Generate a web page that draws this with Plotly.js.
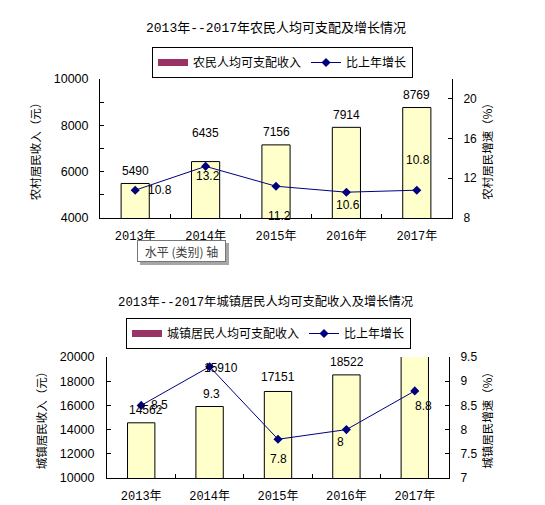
<!DOCTYPE html>
<html><head><meta charset="utf-8">
<script src="https://cdn.plot.ly/plotly-3.0.1.min.js"></script>
<style>html,body{margin:0;padding:0;background:#fff}#chart{width:545px;height:505px}</style>
</head><body><div id="chart"></div>
<script>
// ---- data ----
const years = ['2013年', '2014年', '2015年', '2016年', '2017年'];
const ruralIncome = [5490, 6435, 7156, 7914, 8769];
const ruralGrowth = [10.8, 13.2, 11.2, 10.6, 10.8];
const urbanIncome = [14562, 15910, 17151, 18522, 20152];
const urbanGrowth = [8.5, 9.3, 7.8, 8, 8.8];

const ruralTitle = '2013年--2017年农民人均可支配及增长情况';
const urbanTitle = '2013年--2017年城镇居民人均可支配收入及增长情况';
const ruralIncomeName = '农民人均可支配收入';
const urbanIncomeName = '城镇居民人均可支配收入';
const growthName = '比上年增长';

// ---- label placement (style, px offsets) ----
const ruralIncomeShift = [[0, 12], [0, 29], [0, 13], [0, 12], [0, 12.5]];
const ruralGrowthShift = [[25, 0], [2, -10], [3, -30], [2, -13], [1, 30]];
const urbanIncomeShift = [[5, 13], [11, 38], [0, 14], [1, 13], [0, 13]];
const urbanGrowthShift = [[18, 0], [2, -27], [0, -20], [-6, -12], [9, -15]];

const BAR_FILL = '#FFFFCC', SWATCH = '#993366', LINE = '#000080';
const NUMFONT = 'Liberation Sans, Arial, sans-serif';
const CJK = 'Noto Sans CJK SC';
const MONO = 'Liberation Mono, Noto Sans CJK SC';

const W = 545, H = 505;
const px = v => v / W, py = v => 1 - v / H;

const data = [
  // top chart
  {type: 'scatter', x: [null], y: [null], xaxis: 'x', yaxis: 'y', mode: 'lines', name: ruralIncomeName,
   line: {color: SWATCH, width: 7}, legend: 'legend', hoverinfo: 'skip'},
  {type: 'bar', x: years, y: ruralIncome, xaxis: 'x', yaxis: 'y', width: 0.4, name: ruralIncomeName,
   marker: {color: BAR_FILL, line: {color: '#000', width: 1}}, showlegend: false},
  {type: 'scatter', x: years, y: ruralGrowth, xaxis: 'x', yaxis: 'y2', mode: 'lines+markers', name: growthName,
   line: {color: LINE, width: 1}, marker: {symbol: 'diamond', size: 7, color: LINE}, legend: 'legend'},
  // bottom chart
  {type: 'scatter', x: [null], y: [null], xaxis: 'x2', yaxis: 'y3', mode: 'lines', name: urbanIncomeName,
   line: {color: SWATCH, width: 7}, legend: 'legend2', hoverinfo: 'skip'},
  {type: 'bar', x: years, y: urbanIncome, xaxis: 'x2', yaxis: 'y3', width: 0.4, name: urbanIncomeName,
   marker: {color: BAR_FILL, line: {color: '#000', width: 1}}, showlegend: false},
  {type: 'scatter', x: years, y: urbanGrowth, xaxis: 'x2', yaxis: 'y4', mode: 'lines+markers', name: growthName,
   line: {color: LINE, width: 1}, marker: {symbol: 'diamond', size: 7, color: LINE}, legend: 'legend2'}
];

const axisBase = {showline: true, linecolor: '#000', linewidth: 1, ticks: 'inside', ticklen: 4, tickcolor: '#000',
  showgrid: false, zeroline: false, fixedrange: true};

const xAxisBase = Object.assign({}, axisBase, {type: 'category', tickson: 'boundaries', ticklen: 4,
  tickfont: {family: MONO, size: 12, color: '#000'}, ticklabelstandoff: 7});

const yLabelFont = {family: NUMFONT, size: 12.5, color: '#000'};
const yTitleFont = {family: CJK, size: 11.5, color: '#000'};

const annotations = [];
function addLabels(cats, vals, shifts, xref, yref, fmt, maxVal) {
  cats.forEach((c, i) => {
    if (maxVal !== undefined && vals[i] > maxVal) return;
    annotations.push({x: c, y: vals[i], xref: xref, yref: yref, text: fmt(vals[i]), showarrow: false,
      xanchor: 'center', yanchor: 'middle', xshift: shifts[i][0], yshift: shifts[i][1],
      font: {family: NUMFONT, size: 12, color: '#000'}});
  });
}
addLabels(years, ruralIncome, ruralIncomeShift, 'x', 'y', v => String(v));
addLabels(years, ruralGrowth, ruralGrowthShift, 'x', 'y2', v => String(v));
addLabels(years, urbanIncome, urbanIncomeShift, 'x2', 'y3', v => String(v), 20000);
addLabels(years, urbanGrowth, urbanGrowthShift, 'x2', 'y4', v => String(v));

// bottom chart title
annotations.push({text: urbanTitle, xref: 'paper', yref: 'paper', x: px(265), y: py(302), xanchor: 'center', yanchor: 'middle',
  showarrow: false, font: {family: MONO, size: 12.3, color: '#000'}});
// Excel tooltip box
annotations.push({text: '水平 (类别) 轴', xref: 'paper', yref: 'paper', x: px(181.5), y: py(251), xanchor: 'center', yanchor: 'middle',
  showarrow: false, width: 85, height: 18, bgcolor: '#fff', bordercolor: '#767676', borderwidth: 1, borderpad: 1,
  font: {family: CJK, size: 12, color: '#404040'}});

const layout = {
  width: W, height: H, margin: {l: 0, r: 0, t: 0, b: 0},
  paper_bgcolor: '#fff', plot_bgcolor: 'rgba(0,0,0,0)',
  font: {family: NUMFONT, size: 12, color: '#000'},
  bargap: 0.6,
  title: {text: ruralTitle, x: px(276), xanchor: 'center', y: py(27), yanchor: 'middle',
    font: {family: MONO, size: 13, color: '#000'}},
  legend: {orientation: 'h', x: px(282.5), xanchor: 'center', y: py(47), yanchor: 'top',
    bordercolor: '#000', borderwidth: 1, bgcolor: '#fff', font: {family: CJK, size: 12, color: '#000'}},
  legend2: {orientation: 'h', x: px(268.5), xanchor: 'center', y: py(318), yanchor: 'top',
    bordercolor: '#000', borderwidth: 1, bgcolor: '#fff', font: {family: CJK, size: 12, color: '#000'}},
  xaxis: Object.assign({}, xAxisBase, {domain: [px(100), px(452)], anchor: 'y'}),
  yaxis: Object.assign({}, axisBase, {domain: [py(218), py(79)], anchor: 'x', range: [4000, 10000],
    tickvals: [4000, 5000, 6000, 7000, 8000, 9000, 10000], ticktext: ['4000', '', '6000', '', '8000', '', '10000'],
    tickfont: yLabelFont, ticklabelstandoff: 8,
    title: {text: '农村居民收入（元）', font: yTitleFont, standoff: 10}}),
  yaxis2: Object.assign({}, axisBase, {overlaying: 'y', side: 'right', anchor: 'x', range: [8, 22], tickvals: [8, 12, 16, 20],
    tickfont: {family: NUMFONT, size: 12, color: '#000'}, ticklabelstandoff: 8,
    title: {text: '农村居民增速（%）', font: yTitleFont}}),
  xaxis2: Object.assign({}, xAxisBase, {domain: [px(107), px(449)], anchor: 'y3'}),
  yaxis3: Object.assign({}, axisBase, {domain: [py(478), py(357)], anchor: 'x2', range: [10000, 20000], dtick: 2000,
    tickformat: 'd', tickfont: yLabelFont, ticklabelstandoff: 9,
    title: {text: '城镇居民收入（元）', font: yTitleFont, standoff: 10}}),
  yaxis4: Object.assign({}, axisBase, {overlaying: 'y3', side: 'right', anchor: 'x2', range: [7, 9.5], dtick: 0.5,
    tickfont: {family: NUMFONT, size: 12, color: '#000'}, ticklabelstandoff: 8,
    title: {text: '城镇居民增速（%）', font: yTitleFont}}),
  shapes: [
    {type: 'rect', xref: 'paper', yref: 'paper', x0: px(140), x1: px(229), y0: py(243), y1: py(265),
      fillcolor: '#a6a6a6', line: {width: 0}, layer: 'above'}
  ],
  annotations: annotations
};

Plotly.newPlot('chart', data, layout, {displayModeBar: false, staticPlot: true});
</script>
</body></html>
